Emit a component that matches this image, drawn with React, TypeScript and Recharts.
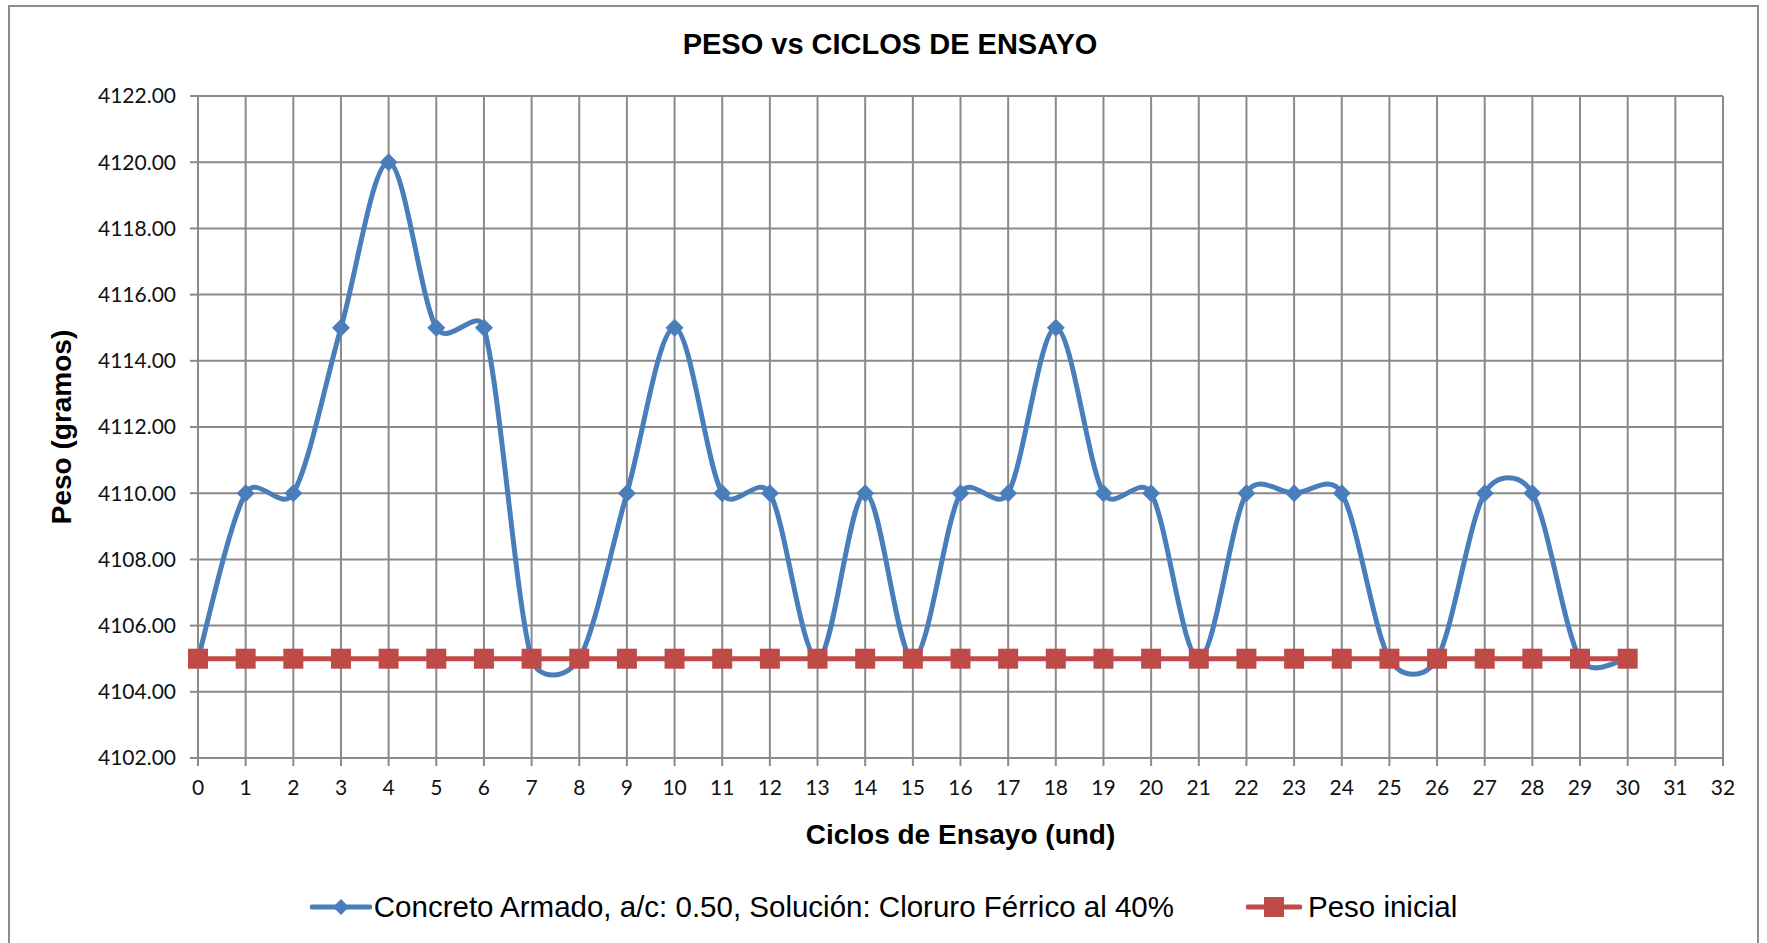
import React from 'react';
import { LineChart, Line, XAxis, YAxis, CartesianGrid, Legend } from 'recharts';

// ciclos de ensayo
const ciclos = [0, 1, 2, 3, 4, 5, 6, 7, 8, 9, 10, 11, 12, 13, 14, 15, 16, 17, 18, 19, 20, 21, 22, 23, 24, 25, 26, 27, 28, 29, 30];
// peso (g) - concreto armado a/c 0.50, cloruro ferrico 40%
const pesoConcreto = [4105, 4110, 4110, 4115, 4120, 4115, 4115, 4105, 4105, 4110, 4115, 4110, 4110, 4105, 4110, 4105, 4110, 4110, 4115, 4110, 4110, 4105, 4110, 4110, 4110, 4105, 4105, 4110, 4110, 4105, 4105];
const pesoInicial = [4105, 4105, 4105, 4105, 4105, 4105, 4105, 4105, 4105, 4105, 4105, 4105, 4105, 4105, 4105, 4105, 4105, 4105, 4105, 4105, 4105, 4105, 4105, 4105, 4105, 4105, 4105, 4105, 4105, 4105, 4105];
const xTicks = [0, 1, 2, 3, 4, 5, 6, 7, 8, 9, 10, 11, 12, 13, 14, 15, 16, 17, 18, 19, 20, 21, 22, 23, 24, 25, 26, 27, 28, 29, 30, 31, 32];
const yTicks = [4102, 4104, 4106, 4108, 4110, 4112, 4114, 4116, 4118, 4120, 4122];

const serieConcreto = 'Concreto Armado, a/c: 0.50, Solución: Cloruro Férrico al 40%';
const serieInicial = 'Peso inicial';

const data = ciclos.map((c, i) => ({ c, a: pesoConcreto[i], b: pesoInicial[i] }));

const BLUE = '#4a7ebb';
const RED = '#be4b48';
const GRID = '#8a8a8a';

// excel-like smoothing: bezier, tangent (p2-p0)/6 but capped at half the segment length
const smooth: any = (ctx: any) => {
  let pts: number[][] = [];
  const ctrl = (a: number[], b: number[], segLen: number) => {
    let dx = (b[0] - a[0]) / 6;
    let dy = (b[1] - a[1]) / 6;
    const len = Math.hypot(dx, dy);
    const cap = segLen / 2;
    if (len > cap && len > 0) {
      dx *= cap / len;
      dy *= cap / len;
    }
    return [dx, dy];
  };
  return {
    areaStart() {},
    areaEnd() {},
    lineStart() { pts = []; },
    point(x: number, y: number) { pts.push([+x, +y]); },
    lineEnd() {
      if (!pts.length) return;
      ctx.moveTo(pts[0][0], pts[0][1]);
      for (let i = 0; i < pts.length - 1; i++) {
        const p0 = pts[i - 1] || pts[i];
        const p1 = pts[i];
        const p2 = pts[i + 1];
        const p3 = pts[i + 2] || p2;
        const seg = Math.hypot(p2[0] - p1[0], p2[1] - p1[1]);
        const t1 = ctrl(p0, p2, seg);
        const t2 = ctrl(p1, p3, seg);
        ctx.bezierCurveTo(p1[0] + t1[0], p1[1] + t1[1], p2[0] - t2[0], p2[1] - t2[1], p2[0], p2[1]);
      }
    },
  };
};

const Diamond = (p: any) => {
  const { cx, cy, index } = p;
  if (cx == null || cy == null) return <g key={`dm${index}`} />;
  const r = 9;
  return <path key={`dm${index}`} d={`M${cx},${cy - r}L${cx + r},${cy}L${cx},${cy + r}L${cx - r},${cy}Z`} fill={BLUE} />;
};

const Square = (p: any) => {
  const { cx, cy, index } = p;
  if (cx == null || cy == null) return <g key={`sq${index}`} />;
  const r = 10;
  return <rect key={`sq${index}`} x={cx - r} y={cy - r} width={r * 2} height={r * 2} fill={RED} />;
};

const LegendBox = () => (
  <div style={{ display: 'flex', justifyContent: 'center', alignItems: 'center', fontFamily: '"Liberation Sans", Arial, sans-serif', fontSize: 29.5, color: '#000', height: 40 }}>
    <svg width={62} height={20} style={{ marginRight: 2 }}>
      <line x1={2} y1={10} x2={60} y2={10} stroke={BLUE} strokeWidth={5} strokeLinecap="round" />
      <path d="M31,2L39,10L31,18L23,10Z" fill={BLUE} />
    </svg>
    <span style={{ marginRight: 72 }}>{serieConcreto}</span>
    <svg width={56} height={22} style={{ marginRight: 6 }}>
      <line x1={2} y1={11} x2={54} y2={11} stroke={RED} strokeWidth={5} strokeLinecap="round" />
      <rect x={18} y={1} width={20} height={20} fill={RED} />
    </svg>
    <span>{serieInicial}</span>
  </div>
);

export default function App() {
  return (
    <div style={{ position: 'absolute', left: 0, top: 0, width: 1767, height: 943, background: '#fff', overflow: 'hidden' }}>
      <div style={{ position: 'absolute', left: 8, top: 5, width: 1751, height: 960, border: '2px solid #8c8c8c', boxSizing: 'border-box' }} />
      <div style={{ position: 'absolute', left: 0, top: 28, width: 1780, textAlign: 'center', fontFamily: '"Liberation Sans", Arial, sans-serif', fontWeight: 'bold', fontSize: 29, color: '#000' }}>
        PESO vs CICLOS DE ENSAYO
      </div>
      <LineChart width={1767} height={943} data={data} margin={{ top: 96, right: 44, bottom: 85, left: 38 }} style={{ position: 'absolute', left: 0, top: 0 }}>
        <CartesianGrid stroke={GRID} strokeWidth={2} vertical horizontal />
        <XAxis
          dataKey="c"
          type="number"
          domain={[0, 32]}
          ticks={xTicks}
          interval={0}
          height={100}
          tickSize={8}
          tickMargin={14}
          stroke={GRID}
          strokeWidth={2}
          tick={{ fill: '#111', fontSize: 21, fontFamily: 'Lato, sans-serif' }}
          label={{ value: 'Ciclos de Ensayo (und)', position: 'insideBottom', offset: 14, style: { fontFamily: '"Liberation Sans", Arial, sans-serif', fontWeight: 'bold', fontSize: 28, fill: '#000' } }}
        />
        <YAxis
          type="number"
          domain={[4102, 4122]}
          ticks={yTicks}
          interval={0}
          width={160}
          tickSize={8}
          tickMargin={14}
          stroke={GRID}
          strokeWidth={2}
          tickFormatter={(v: number) => v.toFixed(2)}
          tick={{ fill: '#111', fontSize: 21, fontFamily: 'Lato, sans-serif' }}
          label={{ value: 'Peso (gramos)', angle: -90, position: 'insideLeft', offset: 23, style: { textAnchor: 'middle', fontFamily: '"Liberation Sans", Arial, sans-serif', fontWeight: 'bold', fontSize: 28, fill: '#000' } }}
        />
        <Legend verticalAlign="middle" align="center" content={() => <LegendBox />} wrapperStyle={{ top: 887, left: 0, width: 1767 }} />
        <Line dataKey="a" name={serieConcreto} type={smooth} stroke={BLUE} strokeWidth={5} dot={Diamond} activeDot={false} isAnimationActive={false} />
        <Line dataKey="b" name={serieInicial} type="linear" stroke={RED} strokeWidth={5} dot={Square} activeDot={false} isAnimationActive={false} />
      </LineChart>
    </div>
  );
}
